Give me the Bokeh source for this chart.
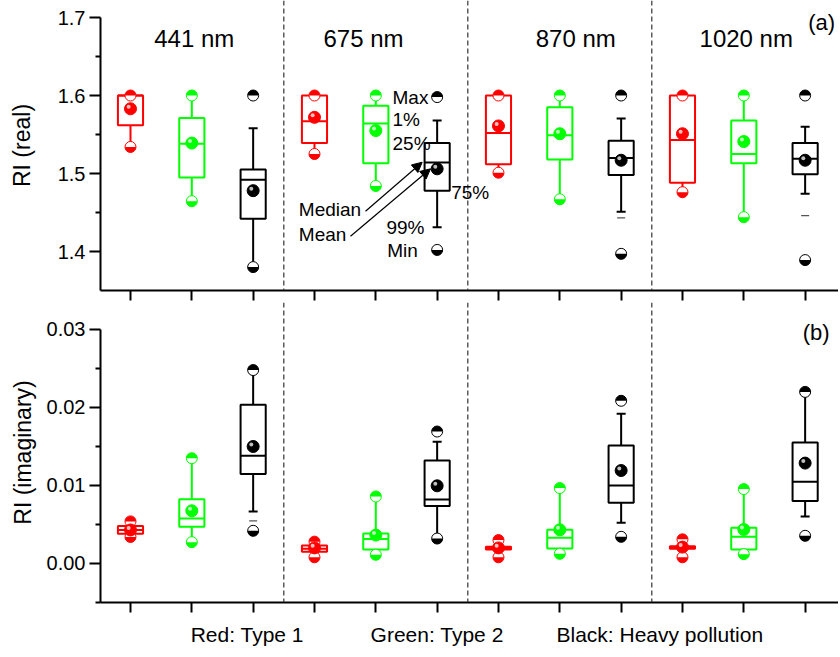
import numpy as np
from bokeh.plotting import figure
from bokeh.models import (ColumnDataSource, Range1d, FixedTicker, NumeralTickFormatter,
                          Span, Label, Arrow, NormalHead, LinearAxis)
from bokeh.layouts import column
from bokeh.transform import dodge
from bokeh.embed import file_html
from bokeh.resources import INLINE

# ---------------- data ----------------
wavelengths = ["441 nm", "675 nm", "870 nm", "1020 nm"]
type_labels = ["Red: Type   1", "Green: Type 2", "Black: Heavy pollution"]
positions = [1, 2, 3, 4, 5, 6, 7, 8, 9, 10, 11, 12]
box_colors = ["#FF0000", "#00FF00", "#000000"] * 4
separators = [3.5, 6.5, 9.5]
real_ticks = [1.4, 1.5, 1.6, 1.7]
real_minor = [1.45, 1.55, 1.65]
imag_ticks = [0.00, 0.01, 0.02, 0.03]
imag_minor = [-0.005, 0.005, 0.015, 0.025]

# (a) real part
real_max = [1.600, 1.600, 1.600, 1.600, 1.600, 1.598, 1.600, 1.600, 1.600, 1.600, 1.600, 1.600]
real_whi = [1.600, 1.600, 1.558, 1.600, 1.600, 1.568, 1.600, 1.600, 1.5705, 1.600, 1.600, 1.560]
real_q3 = [1.600, 1.571, 1.505, 1.600, 1.587, 1.539, 1.600, 1.585, 1.542, 1.600, 1.568, 1.539]
real_med = [1.600, 1.538, 1.492, 1.567, 1.564, 1.514, 1.552, 1.549, 1.520, 1.543, 1.525, 1.519]
real_mean = [1.583, 1.539, 1.478, 1.572, 1.555, 1.506, 1.561, 1.551, 1.517, 1.551, 1.541, 1.517]
real_q1 = [1.562, 1.495, 1.442, 1.539, 1.513, 1.478, 1.512, 1.518, 1.498, 1.488, 1.513, 1.499]
real_wlo = [1.534, 1.4645, 1.380, 1.525, 1.484, 1.431, 1.501, 1.467, 1.451, 1.476, 1.444, 1.474]
real_min = [1.534, 1.4645, 1.380, 1.525, 1.484, 1.402, 1.501, 1.467, 1.397, 1.476, 1.444, 1.389]
real_extra_pos = [9, 12]
real_extra = [1.443, 1.446]

# (b) imaginary part
imag_max = [0.0054, 0.0135, 0.0248, 0.0028, 0.00859, 0.01692, 0.0030, 0.00967, 0.02086, 0.0031, 0.00954, 0.0220]
imag_whi = [0.0054, 0.0135, 0.0248, 0.0028, 0.00859, 0.0156, 0.0030, 0.00967, 0.0192, 0.0031, 0.00954, 0.0220]
imag_q3 = [0.0048, 0.00825, 0.02035, 0.0023, 0.00385, 0.0132, 0.00215, 0.00432, 0.01513, 0.0022, 0.00458, 0.01551]
imag_med = [0.0043, 0.00577, 0.0138, 0.0019, 0.00313, 0.0082, 0.0020, 0.0033, 0.0100, 0.0020, 0.00342, 0.01047]
imag_mean = [0.0043, 0.00676, 0.0150, 0.0020, 0.00364, 0.00996, 0.0020, 0.00432, 0.01192, 0.0021, 0.00436, 0.01287]
imag_q1 = [0.0038, 0.0047, 0.01146, 0.0015, 0.0018, 0.00736, 0.0018, 0.00192, 0.00778, 0.0019, 0.0018, 0.0080]
imag_wlo = [0.0034, 0.00274, 0.00667, 0.0008, 0.00112, 0.0032, 0.0008, 0.00124, 0.00522, 0.0008, 0.0012, 0.00603]
imag_min = [0.0034, 0.00274, 0.00419, 0.0008, 0.00112, 0.0032, 0.0008, 0.00124, 0.00342, 0.0008, 0.0012, 0.00355]
imag_extra_pos = [3]
imag_extra = [0.00547]

FONT = "Liberation Sans"


def style_yaxis(ax, label, ticks, minor, fmt, standoff):
    ax.ticker = FixedTicker(ticks=ticks, minor_ticks=minor)
    ax.formatter = NumeralTickFormatter(format=fmt)
    ax.axis_label = label
    ax.axis_label_text_font = FONT
    ax.axis_label_text_font_size = "23px"
    ax.axis_label_text_font_style = "normal"
    ax.axis_label_text_color = "black"
    ax.axis_label_standoff = standoff
    ax.major_label_text_font = FONT
    ax.major_label_text_font_size = "20px"
    ax.major_label_text_color = "black"
    ax.major_label_standoff = 4
    ax.axis_line_width = 2
    ax.major_tick_line_width = 2
    ax.minor_tick_line_width = 2
    ax.major_tick_out = 11
    ax.major_tick_in = 0
    ax.minor_tick_out = 5
    ax.minor_tick_in = 0


def style_xaxis(ax):
    ax.ticker = FixedTicker(ticks=positions, minor_ticks=[])
    ax.major_label_text_color = None
    ax.major_label_text_font_size = "1px"
    ax.major_label_standoff = 0
    ax.axis_line_width = 2
    ax.major_tick_line_width = 2
    ax.major_tick_in = 0
    ax.major_tick_out = 10
    ax.minor_tick_in = 0
    ax.minor_tick_out = 0


def draw_panel(p, vals, extra_pos, extra_vals, dy):
    src = ColumnDataSource(dict(x=positions, color=box_colors, mx=vals[0], whi=vals[1],
                                q3=vals[2], med=vals[3], mean=vals[4], q1=vals[5],
                                wlo=vals[6], mn=vals[7]))
    p.segment(x0="x", y0="q3", x1="x", y1="whi", line_color="color", line_width=2, source=src)
    p.segment(x0="x", y0="q1", x1="x", y1="wlo", line_color="color", line_width=2, source=src)
    p.scatter("x", "whi", marker="dash", size=9, line_color="color", line_width=2, source=src)
    p.scatter("x", "wlo", marker="dash", size=9, line_color="color", line_width=2, source=src)
    p.vbar(x="x", width=0.41, top="q3", bottom="q1", fill_color="white",
           line_color="color", line_width=2, source=src)
    p.scatter("x", "med", marker="dash", size=25, line_color="color", line_width=2, source=src)
    esrc = ColumnDataSource(dict(x=extra_pos, y=extra_vals))
    p.scatter("x", "y", marker="dash", size=8, line_color="#555555", line_width=1.3, source=esrc)
    # Max markers (upper half filled)
    p.scatter("x", "mx", marker="circle", size=11, fill_color="white", line_color="color",
              line_width=1, source=src)
    p.wedge("x", "mx", radius=5.5, radius_units="screen", start_angle=0, end_angle=np.pi,
            fill_color="color", line_color=None, source=src)
    # Min markers (lower half filled)
    p.scatter("x", "mn", marker="circle", size=11, fill_color="white", line_color="color",
              line_width=1, source=src)
    p.wedge("x", "mn", radius=5.5, radius_units="screen", start_angle=np.pi, end_angle=2 * np.pi,
            fill_color="color", line_color=None, source=src)
    # Mean spheres
    p.scatter("x", "mean", marker="circle", size=12, fill_color="color", line_color="color",
              line_width=1, source=src)
    p.scatter(x=dodge("x", -0.03), y=dodge("mean", dy), marker="circle", size=4,
              fill_color="white", fill_alpha=0.75, line_color=None, source=src)
    for s in separators:
        p.add_layout(Span(location=s, dimension="height", line_dash="5 3",
                          line_color="#333333", line_width=1.2))


xr = Range1d(0.511, 12.544)

# ---------- top panel ----------
p1 = figure(width=838, height=302, x_range=xr, y_range=Range1d(1.35, 1.7218),
            output_backend="svg", toolbar_location=None,
            min_border_left=100, min_border_right=0, min_border_top=0, min_border_bottom=12)
p1.grid.visible = False
p1.outline_line_color = None
p1.yaxis.bounds = (1.35, 1.7)
style_yaxis(p1.yaxis[0], "RI (real)", real_ticks, real_minor, "0.0", 20)
style_xaxis(p1.xaxis[0])

draw_panel(p1, [real_max, real_whi, real_q3, real_med, real_mean, real_q1, real_wlo, real_min],
           real_extra_pos, real_extra, 0.0026)

title_x = [2.04, 4.8, 8.26, 11.04]
for wl, tx in zip(wavelengths, title_x):
    p1.add_layout(Label(x=tx, y=1.673, text=wl, text_align="center", text_baseline="middle",
                        text_font=FONT, text_font_size="24px", text_color="black"))
p1.add_layout(Label(x=12.05, y=1.694, text="(a)", text_align="left", text_baseline="middle",
                    text_font=FONT, text_font_size="22px", text_color="black"))

notes = [("Max", 5.272, 1.598), ("1%", 5.272, 1.569), ("25%", 5.272, 1.538),
         ("75%", 6.229, 1.4752), ("Median", 3.745, 1.4538), ("Mean", 3.745, 1.4218),
         ("99%", 5.174, 1.4304), ("Min", 5.185, 1.4017)]
for t, nx, ny in notes:
    p1.add_layout(Label(x=nx, y=ny, text=t, text_align="left", text_baseline="middle",
                        text_font=FONT, text_font_size="19px", text_color="black"))
p1.add_layout(Arrow(end=NormalHead(size=10, fill_color="black", line_color="black"),
                    x_start=4.832, y_start=1.4517, x_end=5.756, y_end=1.5145,
                    line_width=1.2, line_color="black"))
p1.add_layout(Arrow(end=NormalHead(size=10, fill_color="black", line_color="black"),
                    x_start=4.587, y_start=1.4196, x_end=5.892, y_end=1.506,
                    line_width=1.2, line_color="black"))

# ---------- bottom panel ----------
p2 = figure(width=838, height=350, x_range=xr, y_range=Range1d(-0.005, 0.03346),
            output_backend="svg", toolbar_location=None,
            min_border_left=100, min_border_bottom=50, min_border_top=0, min_border_right=0)
p2.grid.visible = False
p2.outline_line_color = None
p2.yaxis.bounds = (-0.005, 0.03)
style_yaxis(p2.yaxis[0], "RI (imaginary)", imag_ticks, imag_minor, "0.00", 8)
style_xaxis(p2.xaxis[0])

type_axis = LinearAxis(ticker=FixedTicker(ticks=[3.0, 6.0, 9.63], minor_ticks=[]))
type_axis.major_label_overrides = {3.0: type_labels[0], 6.0: type_labels[1], 9.63: type_labels[2]}
type_axis.axis_line_color = None
type_axis.major_tick_out = 0
type_axis.major_tick_in = 0
type_axis.minor_tick_out = 0
type_axis.minor_tick_in = 0
type_axis.major_label_standoff = 10
type_axis.major_label_text_font = FONT
type_axis.major_label_text_font_size = "21px"
type_axis.major_label_text_color = "black"
p2.add_layout(type_axis, "below")

draw_panel(p2, [imag_max, imag_whi, imag_q3, imag_med, imag_mean, imag_q1, imag_wlo, imag_min],
           imag_extra_pos, imag_extra, 0.00026)

p2.add_layout(Label(x=11.96, y=0.02958, text="(b)", text_align="left", text_baseline="middle",
                    text_font=FONT, text_font_size="22px", text_color="black"))

layout = column(p1, p2, spacing=0)
open("out.html", "w").write(file_html(layout, INLINE))
